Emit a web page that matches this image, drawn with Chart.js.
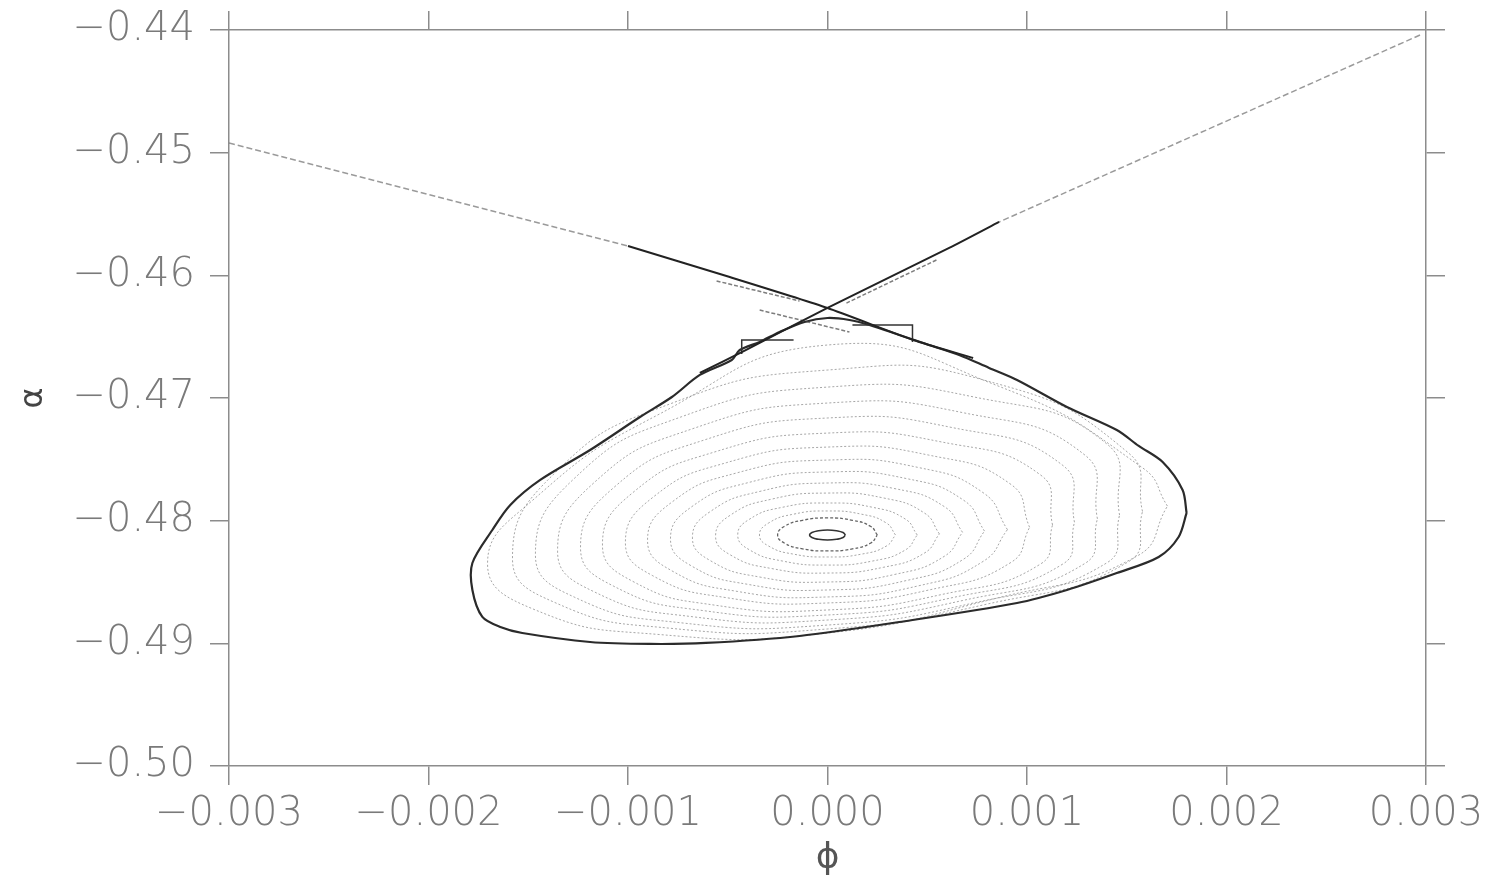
<!DOCTYPE html>
<html>
<head>
<meta charset="utf-8">
<script src="https://cdn.jsdelivr.net/npm/chart.js@4.4.1/dist/chart.umd.min.js"></script>
<style>
  html, body { margin: 0; padding: 0; background: #fff; }
  #wrap { width: 1501px; height: 880px; }
</style>
</head>
<body>
<div id="wrap"><canvas id="chart" width="1501" height="880"></canvas></div>
<script>
// axis ticks
const xTickValues = [-0.003, -0.002, -0.001, 0, 0.001, 0.002, 0.003];
const yTickValues = [-0.50, -0.49, -0.48, -0.47, -0.46, -0.45, -0.44];

// outer edge of the island (phi, alpha)
const boundary = [[0.0018,-0.47937],[0.00178,-0.4775],[0.00168,-0.47522],[0.00156,-0.47391],[0.00145,-0.47261],
  [0.0012,-0.47073],[0.00095,-0.46853],[0.00081,-0.46755],[0.00066,-0.46649],[0.00051,-0.46568],[0.00036,-0.46486],
  [0.00021,-0.46405],[0.00011,-0.46364],[0,-0.46348],[-0.000115,-0.4638],[-0.00024,-0.46462],[-0.00034,-0.46543],
  [-0.00044,-0.46609],[-0.00048,-0.4669],[-0.00064,-0.46812],[-0.00078,-0.46992],[-0.00094,-0.47155],[-0.00119,-0.47424],
  [-0.00144,-0.47668],[-0.00159,-0.47872],[-0.00168,-0.48076],[-0.00178,-0.48345],[-0.00178,-0.48565],[-0.00173,-0.48785],
  [-0.00164,-0.48867],[-0.00153,-0.48916],[-0.00119,-0.48989],[-0.00089,-0.49005],[-0.00061,-0.48997],[-0.00014,-0.4894],
  [0.00036,-0.48826],[0.00095,-0.48671],[0.0012,-0.48565],[0.00145,-0.48427],[0.00166,-0.48296],[0.00176,-0.48133],
  [0.0018,-0.47937]];

// nested orbits around the centre, innermost first
const rings = [
  [[0.00009,-0.48117],[0.000078,-0.48097],[0.000045,-0.48082],[0,-0.48076],[-0.000045,-0.48082],[-0.000078,-0.48097],
   [-0.00009,-0.48117],[-0.000078,-0.48137],[-0.000045,-0.48152],[0,-0.48158],[0.000045,-0.48152],[0.000078,-0.48137],[0.00009,-0.48117]],
  [[0.00025,-0.48117],[0.000217,-0.48048],[0.000125,-0.47997],[0,-0.47978],[-0.000125,-0.47997],[-0.000217,-0.48048],
   [-0.00025,-0.48117],[-0.000217,-0.48182],[-0.000125,-0.4823],[0,-0.48247],[0.000125,-0.4823],[0.000217,-0.48182],[0.00025,-0.48117]],
  [[0.000341,-0.48117],[0.000295,-0.48019],[0.00017,-0.47947],[0,-0.47921],[-0.00017,-0.47947],[-0.000295,-0.48019],
   [-0.000341,-0.48117],[-0.000295,-0.48207],[-0.00017,-0.48273],[0,-0.48296],[0.00017,-0.48273],[0.000295,-0.48207],[0.000341,-0.48117]],
  [[0.00045,-0.48117],[0.00039,-0.47987],[0.000226,-0.47891],[0,-0.47856],[-0.000226,-0.47891],[-0.00039,-0.47987],
   [-0.00045,-0.48117],[-0.00039,-0.48239],[-0.000226,-0.48329],[0,-0.48362],[0.000226,-0.48329],[0.00039,-0.48239],[0.00045,-0.48117]],
  [[0.000561,-0.48108],[0.000486,-0.47938],[0.000281,-0.47815],[0,-0.47775],[-0.000281,-0.47825],[-0.000486,-0.47954],
   [-0.000561,-0.48126],[-0.000486,-0.4828],[-0.000281,-0.4839],[0,-0.48427],[0.000281,-0.4838],[0.000486,-0.48264],[0.000561,-0.48108]],
  [[0.000677,-0.48095],[0.000586,-0.47886],[0.000338,-0.47739],[0,-0.47693],[-0.000338,-0.47761],[-0.000586,-0.47924],
   [-0.000677,-0.48139],[-0.000586,-0.48327],[-0.000338,-0.4846],[0,-0.485],[0.000338,-0.48438],[0.000586,-0.4829],[0.000677,-0.48095]],
  [[0.000787,-0.48085],[0.000682,-0.47833],[0.000393,-0.47656],[0,-0.47603],[-0.000393,-0.47688],[-0.000682,-0.47888],
   [-0.000787,-0.48149],[-0.000682,-0.48369],[-0.000393,-0.48521],[0,-0.48565],[0.000393,-0.48489],[0.000682,-0.48314],[0.000787,-0.48085]],
  [[0.000902,-0.48073],[0.000781,-0.47773],[0.000451,-0.47565],[0,-0.47506],[-0.000451,-0.47609],[-0.000781,-0.4785],
   [-0.000902,-0.48161],[-0.000781,-0.48408],[-0.000451,-0.48577],[0,-0.48622],[0.000451,-0.48533],[0.000781,-0.48331],[0.000902,-0.48073]],
  [[0.001013,-0.48054],[0.00092,-0.47705],[0.000506,-0.47465],[0,-0.474],[-0.000506,-0.47527],[-0.000877,-0.47812],
   [-0.001013,-0.4818],[-0.000877,-0.48448],[-0.000506,-0.48628],[0,-0.48671],[0.000506,-0.48566],[0.00092,-0.4834],[0.001013,-0.48054]],
  [[0.001128,-0.48035],[0.00107,-0.4763],[0.000564,-0.47356],[0,-0.47286],[-0.000564,-0.47439],[-0.000977,-0.47773],
   [-0.001128,-0.48199],[-0.000977,-0.48494],[-0.000564,-0.48689],[0,-0.48728],[0.000564,-0.48605],[0.00107,-0.48351],[0.001128,-0.48035]],
  [[0.001238,-0.48013],[0.00118,-0.4755],[0.000619,-0.47239],[0,-0.47163],[-0.000619,-0.47343],[-0.001072,-0.47731],
   [-0.001238,-0.4822],[-0.001072,-0.48534],[-0.000619,-0.48734],[0,-0.48769],[0.000619,-0.4863],[0.00118,-0.48353],[0.001238,-0.48013]],
  [[0.001353,-0.47985],[0.00129,-0.47465],[0.000677,-0.47119],[0,-0.47041],[-0.000677,-0.47251],[-0.001172,-0.47693],
   [-0.001353,-0.48249],[-0.001172,-0.48578],[-0.000677,-0.48783],[0,-0.4881],[0.000677,-0.48651],[0.00129,-0.48349],[0.001353,-0.47985]],
  [[0.001464,-0.47955],[0.0014,-0.47374],[0.000732,-0.46991],[0,-0.46911],[-0.000732,-0.47153],[-0.001268,-0.47654],
   [-0.001464,-0.48279],[-0.001268,-0.48624],[-0.000732,-0.48833],[0,-0.48851],[0.000732,-0.48671],[0.0014,-0.48344],[0.001464,-0.47955]],
  [[0.001579,-0.47925],[0.00151,-0.4745],[0.000789,-0.46856],[0,-0.46772],[-0.000789,-0.47048],[-0.001367,-0.47612],
   [-0.001579,-0.48309],[-0.001367,-0.48667],[-0.000789,-0.48877],[0,-0.48883],[0.000789,-0.48684],[0.00151,-0.48333],[0.001579,-0.47925]],
  [[0.001704,-0.47881],[0.00158,-0.4757],[0.000852,-0.469],[0,-0.46568],[-0.000852,-0.47139],[-0.001476,-0.47831],
   [-0.001704,-0.48353],[-0.001476,-0.4872],[-0.000852,-0.48927],[0,-0.48916],[0.000852,-0.4863],[0.00155,-0.4829],[0.001704,-0.47881]]
];

// separatrix branches (far = faint, near = dark)
const sepAFar  = [[-0.003,-0.44921],[-0.002,-0.45341],[-0.001,-0.45761]];
const sepANear = [[-0.001,-0.45761],[-0.00049,-0.46014],[0,-0.46266],[0.00043,-0.46527],[0.00073,-0.46674]];
const sepBFar  = [[0.00297,-0.44041],[0.001865,-0.4484],[0.00086,-0.45565]];
const sepBNear = [[0.00086,-0.45565],[0.00061,-0.45777],[0,-0.46266],[-0.00041,-0.46609],[-0.00064,-0.46796]];
const branch1 = [[-0.000556,-0.46046],[-0.00014,-0.46209]];
const branch2 = [[-0.00034,-0.46283],[0.00011,-0.46462]];
const branch3 = [[0.000546,-0.45875],[0.000095,-0.46226]];
const boxRight = [[0.000125,-0.46405],[0.000426,-0.46405],[0.000426,-0.46543]];
const boxLeft  = [[-0.00043,-0.46642],[-0.00043,-0.46527],[-0.00017,-0.46527]];

const pts = arr => arr.map(p => ({x: p[0], y: p[1]}));
const line = (arr, color, width, dash, tension, order) => ({
  data: pts(arr), showLine: true, borderColor: color, borderWidth: width,
  borderDash: dash, tension: tension, pointRadius: 0, order: order
});

const axisGrey = '#8c8c8c';
const tickFont = { family: 'DejaVu Sans', size: 40, weight: 200 };

const datasets = [
  line(boundary, '#2b2b2b', 2.2, [], 0.3, 5),
  line(sepAFar, 'rgba(120,120,120,0.75)', 1.5, [6, 3], 0, 4),
  line(sepBFar, 'rgba(120,120,120,0.75)', 1.5, [6, 3], 0, 4),
  line(sepANear, '#222', 2, [], 0.2, 3),
  line(sepBNear, '#222', 2, [], 0.2, 3),
  line(branch1, 'rgba(70,70,70,0.7)', 1.5, [4, 2], 0, 4),
  line(branch2, 'rgba(70,70,70,0.7)', 1.5, [4, 2], 0, 4),
  line(branch3, 'rgba(70,70,70,0.7)', 1.5, [4, 2], 0, 4),
  line(boxRight, '#333', 1.5, [], 0, 4),
  line(boxLeft, '#333', 1.5, [], 0, 4)
];
rings.forEach((r, i) => {
  if (i === 0) datasets.push(line(r, '#333', 1.6, [], 0.5, 10));
  else if (i === 1) datasets.push(line(r, 'rgba(60,60,60,0.8)', 1.3, [3, 2], 0.5, 10));
  else datasets.push(line(r, 'rgba(95,95,95,0.55)', 1, [2, 2], 0.5, 10));
});

const gridOpts = { drawOnChartArea: false, drawTicks: true, tickLength: 19, color: axisGrey, lineWidth: 1.5 };
const borderOpts = { display: true, color: axisGrey, width: 1.5 };

new Chart(document.getElementById('chart').getContext('2d'), {
  type: 'scatter',
  data: { datasets: datasets },
  options: {
    responsive: false,
    animation: false,
    layout: { padding: { left: 0, top: 30, right: 75, bottom: 0 } },
    plugins: { legend: { display: false }, tooltip: { enabled: false } },
    scales: {
      x: {
        type: 'linear', position: 'bottom', min: -0.003, max: 0.003,
        afterBuildTicks: s => { s.ticks = xTickValues.map(v => ({ value: v })); },
        afterFit: s => { s.height = 114; s.paddingLeft = 0; s.paddingRight = 0; },
        grid: gridOpts, border: borderOpts,
        ticks: {
          color: '#7a7a7a', font: tickFont, padding: 6, maxRotation: 0, autoSkip: false,
          callback: v => v.toFixed(3).replace('-', '\u2212')
        },
        title: { display: true, text: '\u03d5', color: '#555', font: { family: 'DejaVu Sans', size: 36 }, padding: { top: 0, bottom: 0 } }
      },
      y: {
        type: 'linear', position: 'left', min: -0.5, max: -0.44,
        afterBuildTicks: s => { s.ticks = yTickValues.map(v => ({ value: v })); },
        afterFit: s => { s.width = 229; s.paddingTop = 0; s.paddingBottom = 0; },
        grid: gridOpts, border: borderOpts,
        ticks: {
          color: '#7a7a7a', font: tickFont, padding: 15, autoSkip: false,
          callback: v => v.toFixed(2).replace('-', '\u2212')
        },
        title: { display: true, text: '\u03b1', color: '#444', font: { family: 'DejaVu Sans', size: 32 }, padding: { top: 14, bottom: 0 } }
      },
      x2: {
        type: 'linear', position: 'top', min: -0.003, max: 0.003,
        afterBuildTicks: s => { s.ticks = xTickValues.map(v => ({ value: v })); },
        afterFit: s => { s.height = 0; s.paddingLeft = 0; s.paddingRight = 0; },
        grid: gridOpts, border: borderOpts, ticks: { display: false }
      },
      y2: {
        type: 'linear', position: 'right', min: -0.5, max: -0.44,
        afterBuildTicks: s => { s.ticks = yTickValues.map(v => ({ value: v })); },
        afterFit: s => { s.width = 0; s.paddingTop = 0; s.paddingBottom = 0; },
        grid: gridOpts, border: borderOpts, ticks: { display: false }
      }
    }
  }
});
</script>
</body>
</html>
